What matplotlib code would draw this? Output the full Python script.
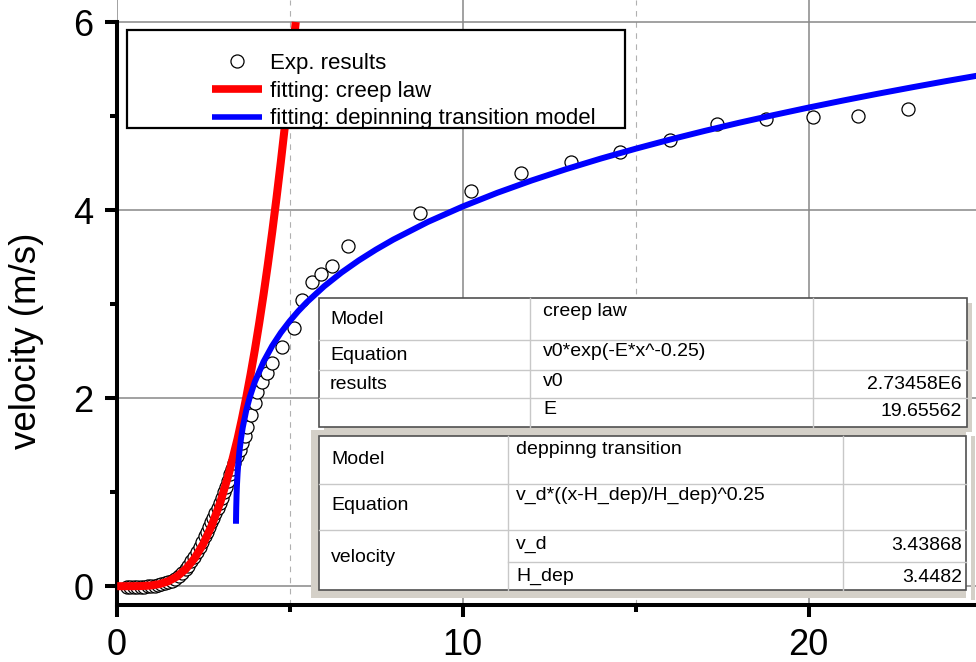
import numpy as np
import matplotlib.pyplot as plt
from matplotlib.patches import Rectangle
from matplotlib.lines import Line2D

plt.rcParams['font.family'] = ['Liberation Sans', 'DejaVu Sans']

# measured velocities
exp_x = [0.30, 0.40, 0.50, 0.60, 0.70, 0.80, 0.90, 1.00, 1.10, 1.20, 1.30, 1.40,
         1.50, 1.60, 1.70, 1.80, 1.90, 2.00, 2.08, 2.16, 2.24, 2.32, 2.40, 2.48,
         2.56, 2.62, 2.68, 2.74, 2.80, 2.86, 2.92, 2.98, 3.04, 3.10, 3.16, 3.22,
         3.28, 3.34, 3.40, 3.48, 3.56, 3.63, 3.70, 3.77, 3.89, 4.00, 4.06, 4.21,
         4.35, 4.50, 4.78, 5.13, 5.36, 5.65, 5.91, 6.23, 6.69, 8.77, 10.25, 11.69,
         13.14, 14.55, 15.99, 17.36, 18.77, 20.13, 21.43, 22.88]
exp_y = [-0.01, -0.01, -0.01, -0.01, -0.01, -0.01, 0.00, 0.00, 0.00, 0.01, 0.02, 0.03,
         0.04, 0.06, 0.08, 0.11, 0.14, 0.18, 0.22, 0.27, 0.31, 0.36, 0.42, 0.47,
         0.53, 0.58, 0.63, 0.68, 0.73, 0.78, 0.83, 0.88, 0.94, 1.00, 1.06, 1.12,
         1.19, 1.25, 1.31, 1.38, 1.45, 1.52, 1.60, 1.69, 1.82, 1.95, 2.06, 2.17,
         2.27, 2.37, 2.54, 2.75, 3.04, 3.24, 3.32, 3.40, 3.62, 3.97, 4.20, 4.39,
         4.51, 4.62, 4.75, 4.91, 4.97, 4.99, 5.00, 5.08]

# creep law fit curve
creep_x = [0.02, 0.25, 0.5, 0.75, 1.0, 1.25, 1.5, 1.75, 2.0, 2.25, 2.5, 2.75, 3.0,
           3.25, 3.5, 3.625, 3.75, 3.875, 4.0, 4.125, 4.25, 4.375, 4.5, 4.625,
           4.75, 4.875, 5.0, 5.1, 5.18]
creep_y = [0.0, 0.0, 0.0002, 0.0018, 0.0080, 0.0231, 0.0529, 0.1035, 0.1814, 0.2931,
           0.4448, 0.6427, 0.8926, 1.2001, 1.5700, 1.7802, 2.0073, 2.2526, 2.5163,
           2.7994, 3.1015, 3.4243, 3.7664, 4.1306, 4.5148, 4.9210, 5.3495, 5.7083,
           6.0]

# depinning transition fit curve
dep_x = [3.453, 3.455, 3.46, 3.47, 3.48, 3.50, 3.52, 3.55, 3.6, 3.65, 3.75, 3.85,
         4.0, 4.25, 4.5, 4.75, 5.0, 5.25, 5.5, 6.0, 6.5, 7.0, 7.5, 8.0, 9.0, 10.0,
         11.0, 12.0, 13.0, 14.0, 15.0, 16.0, 17.0, 18.0, 19.0, 20.0, 21.0, 22.0,
         23.0, 24.0, 25.0]
dep_y = [0.664, 0.725, 0.832, 0.970, 1.066, 1.204, 1.306, 1.425, 1.575, 1.691, 1.870,
         2.009, 2.175, 2.388, 2.556, 2.696, 2.816, 2.924, 3.020, 3.189, 3.335, 3.464,
         3.580, 3.686, 3.874, 4.037, 4.183, 4.315, 4.436, 4.548, 4.652, 4.750, 4.842,
         4.929, 5.011, 5.090, 5.165, 5.237, 5.306, 5.373, 5.437]

legend_labels = ['Exp. results', 'fitting: creep law', 'fitting: depinning transition model']

creep_table = [('Model', 'creep law', ''),
               ('Equation', 'v0*exp(-E*x^-0.25)', ''),
               ('results', 'v0', '2.73458E6'),
               ('', 'E', '19.65562')]
dep_table = [('Model', 'deppinng transition', ''),
             ('Equation', 'v_d*((x-H_dep)/H_dep)^0.25', ''),
             ('velocity', 'v_d', '3.43868'),
             ('', 'H_dep', '3.4482')]

W, H = 976, 662
fig = plt.figure(figsize=(W / 100, H / 100), dpi=100)


def fx(px):
    return px / W


def fy(py):
    return 1 - py / H


def box(x0, y0, x1, y1, **kw):
    fig.patches.append(Rectangle((fx(x0), fy(y1)), (x1 - x0) / W, (y1 - y0) / H,
                                 transform=fig.transFigure, **kw))


def seg(x0, y0, x1, y1, **kw):
    fig.lines.append(Line2D([fx(x0), fx(x1)], [fy(y0), fy(y1)],
                            transform=fig.transFigure, zorder=2, **kw))


ax = fig.add_axes([116.5 / W, (H - 605) / H, (W - 116.5) / W, 605 / H])
ax.set_xlim(0, 24.84)
ax.set_ylim(-0.2, 6.234)

ax.plot(exp_x, exp_y, 'o', ms=9.4, mfc='white', mec='black', mew=0.9, zorder=3)
ax.plot(creep_x, creep_y, color='red', lw=5.8, zorder=4, solid_capstyle='butt')
ax.plot(dep_x, dep_y, color='blue', lw=4.3, zorder=5, solid_capstyle='butt')

ax.set_xticks([0, 10, 20])
ax.set_xticks([5, 15], minor=True)
ax.set_yticks([0, 2, 4, 6])
ax.set_yticks([1, 3, 5], minor=True)
ax.grid(which='major', color='#888888', lw=1.1, zorder=0)
ax.grid(which='minor', axis='x', color='#b0b0b0', lw=0.8, ls=(0, (5, 5)), zorder=0)
ax.set_axisbelow(True)

for s in ['top', 'right']:
    ax.spines[s].set_visible(False)
for s in ['left', 'bottom']:
    ax.spines[s].set_linewidth(2.9)
ax.spines['left'].set_bounds(-0.2, 6)

ax.tick_params(which='major', direction='out', length=8.6, width=2.9, labelsize=26, pad=8)
ax.tick_params(which='minor', direction='out', length=5, width=2.9)

ax.set_ylabel('velocity (m/s)', fontsize=26.5)
ax.yaxis.set_label_coords((44 - 116.5) / (W - 116.5), (605 - 341) / 605)

# legend with its own box
box(127, 30, 625, 128, facecolor='white', edgecolor='black', lw=1.6, zorder=4)
handles = [Line2D([], [], marker='o', ls='none', ms=9.4, mfc='white', mec='black', mew=0.9),
           Line2D([], [], color='red', lw=5.5, solid_capstyle='butt'),
           Line2D([], [], color='blue', lw=4, solid_capstyle='butt')]
fig.legend(handles, legend_labels, loc='upper left', bbox_to_anchor=(fx(212), fy(53)),
           frameon=False, fontsize=16, handlelength=2.25, handletextpad=0.35,
           labelspacing=0.3, borderpad=0, borderaxespad=0).set_zorder(5)

# fit result tables
shade = '#d4d0c8'
edge = '#505050'
inner = '#c8c8c8'
tfs = 14

# table 1: creep law
box(324, 303, 972, 432, facecolor=shade, edgecolor='none', zorder=1)
box(319, 298, 967, 427, facecolor='white', edgecolor=edge, lw=1.2, zorder=1.5)
for yy in [340, 370, 398]:
    seg(319, yy, 967, yy, color=inner, lw=1)
for xx in [530, 813]:
    seg(xx, 298, xx, 427, color=inner, lw=1)
row_y = [(320, 311), (355, 352), (384, 382), (411, 410)]
for (a, b, c), (y1, y2) in zip(creep_table, row_y):
    fig.text(fx(330), fy(y1), a, fontsize=tfs, va='center', ha='left')
    fig.text(fx(543), fy(y2), b, fontsize=tfs, va='center', ha='left')
    fig.text(fx(962), fy(y1), c, fontsize=tfs, va='center', ha='right')

# table 2: depinning transition
box(311, 430, 966, 598, facecolor=shade, edgecolor='none', zorder=1)
box(971, 436, 975, 600, facecolor=shade, edgecolor='none', zorder=1)
box(319, 436, 966, 590, facecolor='white', edgecolor=edge, lw=1.2, zorder=1.5)
for yy in [484, 530]:
    seg(319, yy, 966, yy, color=inner, lw=1)
seg(508, 562, 966, 562, color=inner, lw=1)
for xx in [508, 843]:
    seg(xx, 436, xx, 590, color=inner, lw=1)
row_y = [(460, 450), (506, 495), (558, 544), (577, 576)]
for (a, b, c), (y1, y2) in zip(dep_table, row_y):
    fig.text(fx(331), fy(y1), a, fontsize=tfs, va='center', ha='left')
    fig.text(fx(516), fy(y2), b, fontsize=tfs, va='center', ha='left')
    fig.text(fx(962), fy(y2 + 2), c, fontsize=tfs, va='center', ha='right')

fig.savefig('out.png', dpi=100)
